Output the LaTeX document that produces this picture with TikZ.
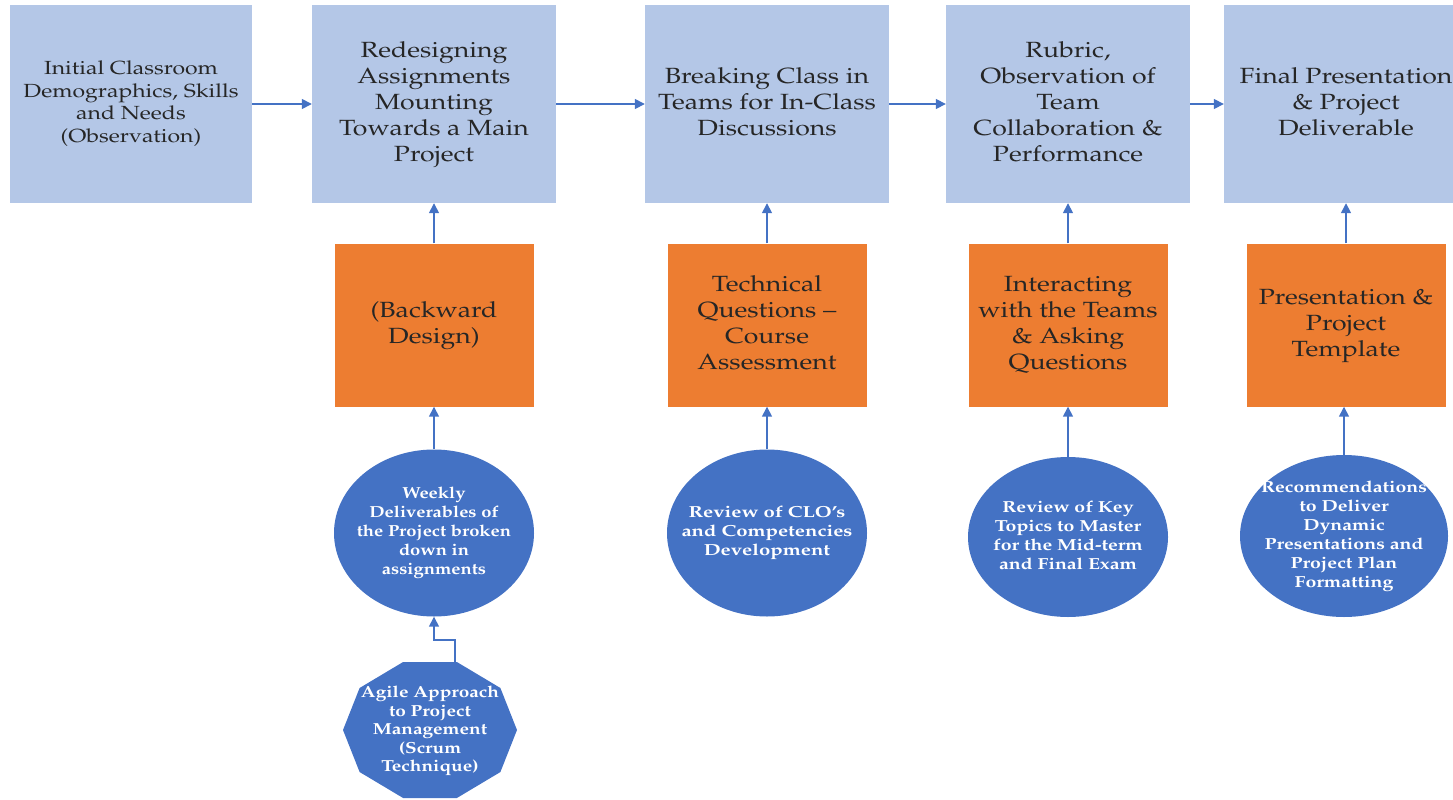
\documentclass[tikz,border=0pt]{standalone}
\usepackage[T1]{fontenc}
\usepackage{mathpazo}
\usetikzlibrary{arrows.meta, positioning, shapes.geometric}
\definecolor{stageblue}{HTML}{B4C7E7}
\definecolor{toolorange}{HTML}{ED7D31}
\definecolor{supportblue}{HTML}{4472C4}
\definecolor{textdark}{HTML}{262626}

% widened text lines
\newcommand{\widelines}[2][1.21]{\scalebox{#1}[1]{\begin{tabular}{@{}c@{}}#2\end{tabular}}}

\tikzset{
  stage/.style={fill=stageblue, minimum width=244pt, minimum height=198pt,
    align=center, text=textdark, inner sep=0pt,
    font=\fontsize{22}{26}\selectfont},
  tool/.style={fill=toolorange, minimum width=199pt, minimum height=163pt,
    align=center, text=textdark, inner sep=0pt,
    font=\fontsize{22}{26}\selectfont},
  support/.style={ellipse, fill=supportblue, minimum width=200pt, minimum height=167pt,
    align=center, text=white, inner xsep=-30pt, inner ysep=-20pt,
    font=\bfseries\fontsize{16}{19}\selectfont},
  flow/.style={draw=supportblue, line width=1.5pt, -{Triangle[length=10pt,width=10pt]}}
}

\begin{document}
\begin{tikzpicture}[x=1pt, y=-1pt]
\useasboundingbox (0,0) rectangle (1453,800);
\clip (0,0) rectangle (1453,800);

% Top row of stages
\node[stage, minimum width=242pt, font=\fontsize{19}{22.5}\selectfont] (initial) at (131,104)
  {\widelines{Initial Classroom\\Demographics, Skills\\and Needs\\(Observation)}};
\node[stage] (redesign) at (434,104)
  {\widelines{Redesigning\\Assignments\\Mounting\\Towards a Main\\Project}};
\node[stage] (teams) at (767,104)
  {\widelines{Breaking Class in\\Teams for In-Class\\Discussions}};
\node[stage] (rubric) at (1068,104)
  {\widelines{Rubric,\\Observation of\\Team\\Collaboration \&\\Performance}};
\node[stage] (final) at (1346,104)
  {\widelines{Final Presentation\\\& Project\\Deliverable}};

% Orange boxes
\node[tool] (backward) at (434,325) {\widelines{(Backward\\Design)}};
\node[tool] (technical) at (767,325) {\widelines{Technical\\Questions --\\Course\\Assessment}};
\node[tool] (interact) at (1068,325) {\widelines{Interacting\\with the Teams\\\& Asking\\Questions}};
\node[tool] (template) at (1346,325) {\widelines{Presentation \&\\Project\\Template}};

% Blue ellipses
\node[support] (weekly) at (434,533)
  {\widelines[1.15]{Weekly\\Deliverables of\\the Project broken\\down in\\assignments}};
\node[support] (clo) at (767,533)
  {\widelines[1.27]{Review of CLO's\\and Competencies\\Development}};
\node[support, minimum height=160pt] (topics) at (1068,537)
  {\widelines[1.22]{Review of Key\\Topics to Master\\for the Mid-term\\and Final Exam}};
\node[support, minimum width=208pt, minimum height=162pt] (recommend) at (1344,536)
  {\widelines[1.22]{Recommendations\\to Deliver\\Dynamic\\Presentations and\\Project Plan\\Formatting}};

% Decagon at the bottom
\fill[supportblue] plot[samples at={0,36,...,324}, variable=\a]
  ({430+87*cos(\a)}, {730+71.5*sin(\a)}) -- cycle;
\node[align=center, text=white, font=\bfseries\fontsize{16}{18.5}\selectfont] (agile) at (430,731)
  {\widelines[1.19]{Agile Approach\\to Project\\Management\\(Scrum\\Technique)}};
\coordinate (agiletop) at (455,662);

% Arrows along the top row
\draw[flow] (initial) -- (redesign);
\draw[flow] (redesign) -- (teams);
\draw[flow] (teams) -- (rubric);
\draw[flow] (rubric) -- (final);

% Arrows going up
\draw[flow] (backward) -- (redesign);
\draw[flow] (technical) -- (teams);
\draw[flow] (interact) -- (rubric);
\draw[flow] (template) -- (final);
\draw[flow] (weekly) -- (backward);
\draw[flow] (clo) -- (technical);
\draw[flow] (topics) -- (interact);
\draw[flow] (recommend.north) -- (recommend.north |- template.south);
\draw[flow] (agiletop) -- ++(0,-22) -| (weekly.south);

\end{tikzpicture}
\end{document}
